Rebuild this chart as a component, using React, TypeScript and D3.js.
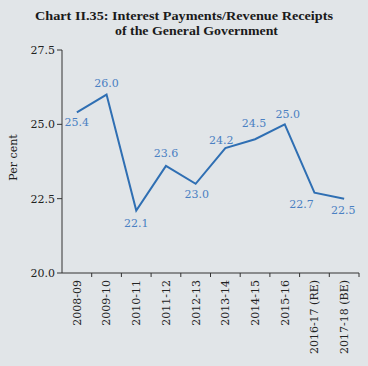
import React from "react";
import * as d3 from "d3";

const categories = ["2008-09", "2009-10", "2010-11", "2011-12", "2012-13", "2013-14", "2014-15", "2015-16", "2016-17 (RE)", "2017-18 (BE)"];
const values = [25.4, 26.0, 22.1, 23.6, 23.0, 24.2, 24.5, 25.0, 22.7, 22.5];
const yTicks = [20.0, 22.5, 25.0, 27.5];
const labelPlacement = [
  { dx: 0, dy: 14 },
  { dx: 0, dy: -8 },
  { dx: 0, dy: 16 },
  { dx: 0, dy: -9 },
  { dx: 1, dy: 14 },
  { dx: -4, dy: -4 },
  { dx: -1, dy: -12 },
  { dx: 3, dy: -6 },
  { dx: -13, dy: 15 },
  { dx: -1, dy: 15 },
];

const W = 368, H = 366;
const m = { left: 62, right: 9, top: 50, bottom: 93 };
const font = "'DejaVu Serif', serif";

export default function App() {
  const x = d3.scaleBand().domain(categories).range([m.left, W - m.right]).padding(0);
  const y = d3.scaleLinear().domain([20, 27.5]).range([H - m.bottom, m.top]);
  const line = d3.line<number>().x((_, i) => (x(categories[i]) as number) + x.bandwidth() / 2).y((d) => y(d));
  const bounds = [...categories.map((c) => x(c) as number), W - m.right];
  const y0 = H - m.bottom;
  return (
    <svg width={W} height={H} style={{ position: "absolute", left: 0, top: 0, background: "#e1e5e8" }}>
      <rect x={0} y={0} width={W} height={H} fill="#e1e5e8" />
      <text x={184} y={20} textAnchor="middle" fontFamily="'Liberation Serif', serif" fontWeight="bold" fontSize={12.5} fill="#1a1a1a" textLength={298} lengthAdjust="spacingAndGlyphs">Chart II.35: Interest Payments/Revenue Receipts</text>
      <text x={196.5} y={35} textAnchor="middle" fontFamily="'Liberation Serif', serif" fontWeight="bold" fontSize={12.5} fill="#1a1a1a" textLength={163} lengthAdjust="spacingAndGlyphs">of the General Government</text>
      <text transform={`translate(17,${(m.top + y0) / 2 - 4}) rotate(-90)`} textAnchor="middle" fontFamily={font} fontSize={11} fill="#222">Per cent</text>
      <line x1={m.left} x2={m.left} y1={m.top} y2={y0} stroke="#333" strokeWidth={1} />
      <line x1={m.left} x2={W - m.right} y1={y0} y2={y0} stroke="#333" strokeWidth={1} />
      {yTicks.map((t) => (
        <g key={t}>
          <line x1={m.left - 5} x2={m.left} y1={y(t)} y2={y(t)} stroke="#333" />
          <text x={m.left - 7} y={y(t)} dy="0.35em" textAnchor="end" fontFamily={font} fontSize={11} fill="#222">{t.toFixed(1)}</text>
        </g>
      ))}
      {bounds.slice(1).map((b, i) => (
        <line key={i} x1={b} x2={b} y1={y0} y2={y0 + 4} stroke="#333" />
      ))}
      {categories.map((c) => (
        <text key={c} transform={`translate(${(x(c) as number) + x.bandwidth() / 2},${y0 + 7}) rotate(-90)`} dy="0.35em" textAnchor="end" fontFamily={font} fontSize={11} fill="#222">{c}</text>
      ))}
      <path d={line(values) || ""} fill="none" stroke="#2f6fb3" strokeWidth={2} />
      {values.map((v, i) => (
        <text key={i} x={(x(categories[i]) as number) + x.bandwidth() / 2 + labelPlacement[i].dx} y={y(v) + labelPlacement[i].dy} textAnchor="middle" fontFamily={font} fontSize={11} fill="#4a80c2">{v.toFixed(1)}</text>
      ))}
    </svg>
  );
}
